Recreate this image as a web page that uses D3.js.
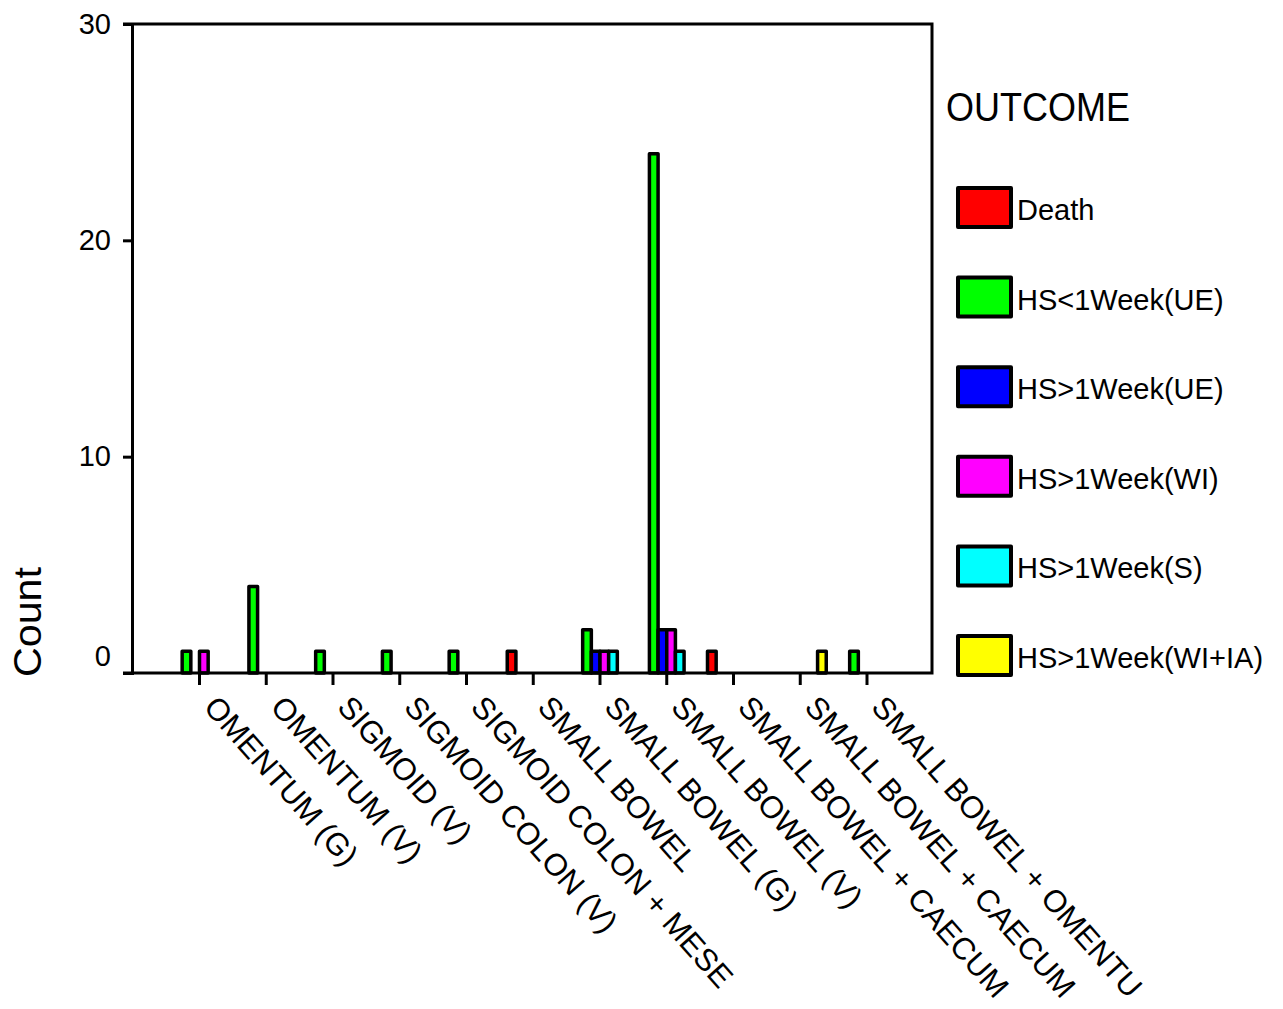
<!DOCTYPE html>
<html>
<head>
<meta charset="utf-8">
<script src="https://cdnjs.cloudflare.com/ajax/libs/d3/7.8.5/d3.min.js"></script>
<style>
  body { margin: 0; background: #fff; }
  text { font-family: "Liberation Sans", Arial, sans-serif; fill: #000; }
</style>
</head>
<body>
<div id="chart"></div>
<script>
var categories = ["OMENTUM (G)", "OMENTUM (V)", "SIGMOID (V)", "SIGMOID COLON (V)",
  "SIGMOID COLON + MESE", "SMALL BOWEL", "SMALL BOWEL (G)", "SMALL BOWEL (V)",
  "SMALL BOWEL + CAECUM", "SMALL BOWEL + CAECUM", "SMALL BOWEL + OMENTU"];
var seriesNames = ["Death", "HS<1Week(UE)", "HS>1Week(UE)", "HS>1Week(WI)", "HS>1Week(S)", "HS>1Week(WI+IA)"];
var death = [0, 0, 0, 0, 0, 1, 0, 0, 1, 0, 0];
var hsLess1WeekUE = [1, 4, 1, 1, 1, 0, 2, 24, 0, 0, 1];
var hsMore1WeekUE = [0, 0, 0, 0, 0, 0, 1, 2, 0, 0, 0];
var hsMore1WeekWI = [1, 0, 0, 0, 0, 0, 1, 2, 0, 0, 0];
var hsMore1WeekS = [0, 0, 0, 0, 0, 0, 1, 1, 0, 0, 0];
var hsMore1WeekWIIA = [0, 0, 0, 0, 0, 0, 0, 0, 0, 1, 0];
var yTicks = [0, 10, 20, 30];
var colors = ["#ff0000", "#00ff00", "#0000ff", "#ff00ff", "#00ffff", "#ffff00"];

var seriesValues = [death, hsLess1WeekUE, hsMore1WeekUE, hsMore1WeekWI, hsMore1WeekS, hsMore1WeekWIIA];

var svg = d3.select("#chart")
  .append("svg")
  .attr("width", 1283)
  .attr("height", 1009);

//plot box (window.top is reserved, so own names)
var plotLeft = 132, plotRight = 932, plotTop = 24, plotBottom = 673;

//scales
var x = d3.scalePoint()
  .domain(d3.range(categories.length))
  .range([199.5, 867]);
var xInner = d3.scaleBand()
  .domain(d3.range(seriesNames.length))
  .range([-26, 26]);
var y = d3.scaleLinear()
  .domain([0, 30])
  .range([plotBottom, plotTop]);

//bars
var bars = [];
seriesValues.forEach(function(vals, s) {
  vals.forEach(function(v, c) {
    if (v > 0) bars.push({ s: s, c: c, v: v });
  });
});
svg.append("g")
  .selectAll("rect")
  .data(bars)
  .enter()
  .append("rect")
  .attr("x", function(d) { return x(d.c) + xInner(d.s); })
  .attr("y", function(d) { return y(d.v); })
  .attr("width", xInner.bandwidth())
  .attr("height", function(d) { return y(0) - y(d.v); })
  .style("fill", function(d) { return colors[d.s]; })
  .style("stroke", "#000")
  .style("stroke-width", 3.5)
  .style("stroke-linejoin", "round");

//frame
svg.append("path")
  .attr("d", "M123," + plotTop + "H" + plotRight + "V" + plotBottom + "H123")
  .style("fill", "none")
  .style("stroke", "#000")
  .style("stroke-width", 3);

//y axis
var yAxis = svg.append("g")
  .attr("transform", "translate(" + plotLeft + ",0)")
  .call(d3.axisLeft(y).tickValues(yTicks).tickSize(9).tickPadding(12).tickFormat(d3.format("d")));
yAxis.select(".domain").style("stroke-width", 3);
yAxis.selectAll(".tick line").style("stroke-width", 3);
yAxis.selectAll(".tick text")
  .style("font-size", "29px")
  .attr("dy", function(d) { return d === 0 ? "-0.25em" : "0.32em"; });

//x axis ticks
svg.append("g")
  .selectAll("line")
  .data(d3.range(categories.length))
  .enter()
  .append("line")
  .attr("x1", function(d) { return x(d); })
  .attr("x2", function(d) { return x(d); })
  .attr("y1", plotBottom)
  .attr("y2", plotBottom + 12)
  .style("stroke", "#000")
  .style("stroke-width", 3);

//x labels, rotated
svg.append("g")
  .selectAll("text")
  .data(categories)
  .enter()
  .append("text")
  .attr("transform", function(d, i) {
    return "translate(" + (x(i) + 3) + "," + 708 + ") rotate(48.5)";
  })
  .style("font-size", "31px")
  .text(function(d) { return d; });

//y title
svg.append("text")
  .attr("transform", "translate(41,677) rotate(-90)")
  .attr("textLength", 110)
  .attr("lengthAdjust", "spacingAndGlyphs")
  .style("font-size", "38px")
  .text("Count");

//legend
svg.append("text")
  .attr("x", 946)
  .attr("y", 121)
  .attr("textLength", 184)
  .attr("lengthAdjust", "spacingAndGlyphs")
  .style("font-size", "41px")
  .text("OUTCOME");

var legend = svg.append("g")
  .selectAll("g")
  .data(seriesNames)
  .enter()
  .append("g")
  .attr("transform", function(d, i) {
    return "translate(0," + (207 + i * 89.6) + ")";
  });
legend
  .append("rect")
  .attr("x", 958)
  .attr("y", -19)
  .attr("width", 53)
  .attr("height", 39)
  .style("fill", function(d, i) { return colors[i]; })
  .style("stroke", "#000")
  .style("stroke-width", 4)
  .style("stroke-linejoin", "round");
legend
  .append("text")
  .attr("x", 1017)
  .attr("y", 13)
  .style("font-size", "29px")
  .text(function(d) { return d; });
</script>
</body>
</html>
